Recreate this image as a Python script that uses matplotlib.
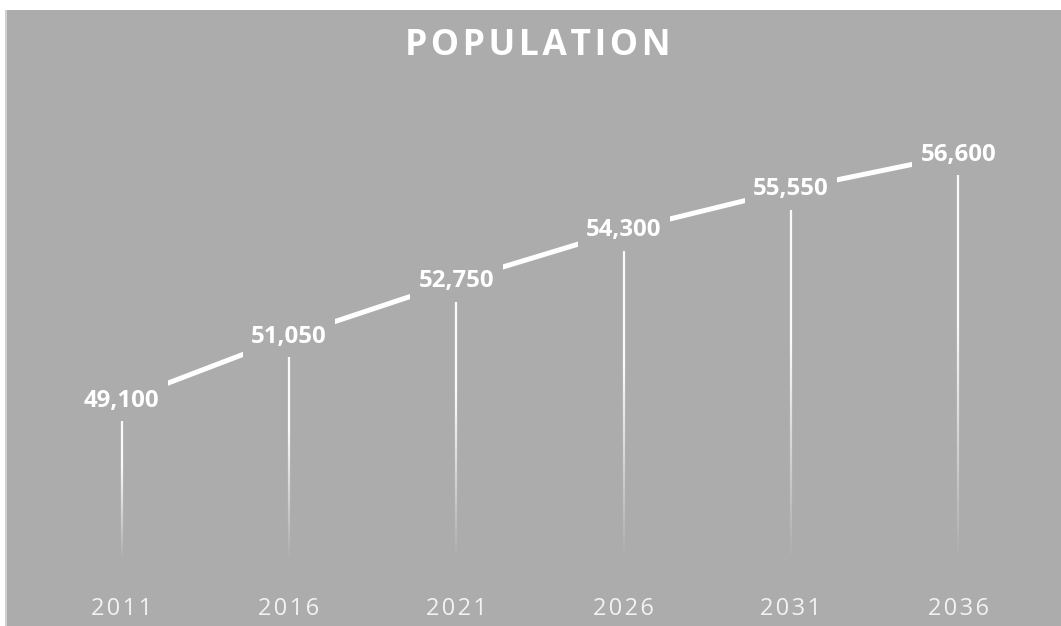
import numpy as np
import matplotlib
matplotlib.use("Agg")
import matplotlib.pyplot as plt
from matplotlib.collections import LineCollection
from matplotlib.patches import Rectangle

# data
years = ["2011", "2016", "2021", "2026", "2031", "2036"]
population = [49100, 51050, 52750, 54300, 55550, 56600]

bg = "#acacac"
plt.rcParams['font.family'] = ['Open Sans', 'DejaVu Sans']
HS = "\u200a"  # hair space, for letter spacing

def spaced(s):
    return HS.join(s)

fig = plt.figure(figsize=(10.61, 6.26), dpi=100)
fig.patch.set_facecolor("white")
# grey chart area with thin edge on the left
fig.patches.append(Rectangle((6/1061, 0), 1 - 6/1061, 1 - 10/626, transform=fig.transFigure,
                             facecolor=bg, edgecolor="none", zorder=-2))
fig.patches.append(Rectangle((5/1061, 0), 1.5/1061, 1 - 10/626, transform=fig.transFigure,
                             facecolor="#cfcfcf", edgecolor="none", zorder=-1))

ax = fig.add_axes([38/1061, 58/626, 1004/1061, 459/626])
ax.set_facecolor("none")
x = np.arange(len(years))
ymin, ymax = 44000, 58000

# drop lines, fading towards the bottom
segs, cols = [], []
n = 60
for xi, yi in zip(x, population):
    ys = np.linspace(ymin + 250, yi, n + 1)
    for k in range(n):
        t = (k + 0.5) / n
        segs.append([(xi, ys[k]), (xi, ys[k + 1])])
        cols.append((1, 1, 1, min(1.0, 1.7 * t) * 0.95))
ax.add_collection(LineCollection(segs, colors=cols, linewidths=1.6, zorder=2,
                                 capstyle="butt"))

ax.plot(x, population, color="white", lw=3.6, zorder=3, solid_capstyle="butt")

for xi, yi in zip(x, population):
    ax.text(xi, yi, f"{yi:,}", ha="center", va="center", fontsize=17.3,
            fontweight="bold", color="white", zorder=5,
            bbox=dict(boxstyle="square,pad=0.35", facecolor=bg, edgecolor="none"))

ax.set_xlim(-0.5, len(years) - 0.5)
ax.set_ylim(ymin, ymax)
ax.set_xticks(x)
ax.set_xticklabels([spaced(y) for y in years], fontsize=17, color="#f2f2f2")
ax.tick_params(axis="x", length=0, pad=21)
ax.set_yticks([])
for s in ax.spines.values():
    s.set_visible(False)

fig.text(538/1061, 1 - 46/626, spaced("POPULATION"), ha="center", va="center",
         fontsize=25.6, fontweight="bold", color="white")

fig.savefig("out.png", dpi=100, facecolor=fig.get_facecolor())
